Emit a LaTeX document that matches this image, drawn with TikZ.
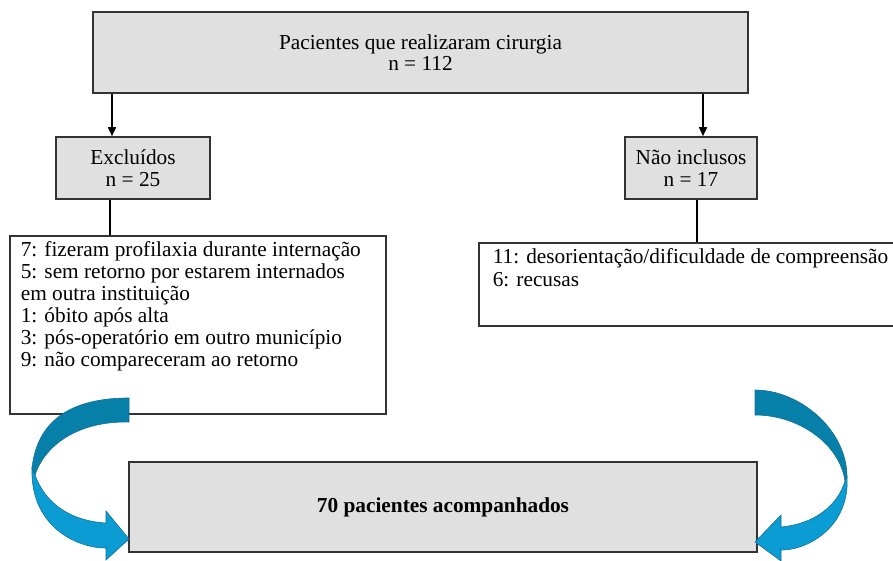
\documentclass[tikz,border=0pt]{standalone}
\usepackage{fontspec}
\setmainfont{Liberation Serif}
\usetikzlibrary{arrows.meta,positioning}
\definecolor{boxgray}{HTML}{E0E0E0}
\definecolor{linegray}{HTML}{333333}
\definecolor{ribbondark}{HTML}{0780A9}
\definecolor{ribbonlight}{HTML}{0A9CD3}
\definecolor{ribbonedge}{HTML}{136F96}

\begin{document}
\begin{tikzpicture}[x=1pt,y=-1pt,
    every node/.style={font=\fontsize{21.3}{20.5}\selectfont},
    graybox/.style={draw=linegray,line width=1.6pt,fill=boxgray,align=center,inner sep=0pt},
    smallbox/.style={graybox,minimum height=62pt,font=\fontsize{21.3}{22}\selectfont},
    listbox/.style={draw=linegray,line width=1.6pt,fill=white,anchor=north west,inner sep=0pt},
    arr/.style={line width=1.6pt,-{Triangle[length=9pt,width=8pt]}},
    conn/.style={line width=1.6pt}]
        \useasboundingbox (0,0) rectangle (893,561);
        \clip (0,0) rectangle (893,561);

        % boxes
        \path
        (420.5,52.5) node[graybox,minimum width=655pt,minimum height=81pt](pac) {Pacientes que realizaram cirurgia\\n = 112}
        (133,168) node[smallbox,minimum width=154pt](exc) {Excluídos\\n = 25}
        (691,168) node[smallbox,minimum width=132pt](nin) {Não inclusos\\n = 17}
        (9,235) node[listbox](exclist) {\begin{minipage}[t][178pt][t]{376pt}\fontsize{21.3}{22}\selectfont
            \leftskip=11pt
            \rule{0pt}{21pt}7: fizeram profilaxia durante internação\\
            5: sem retorno por estarem internados\\
            em outra instituição\\
            1: óbito após alta\\
            3: pós-operatório em outro município\\
            9: não compareceram ao retorno\end{minipage}}
        (478,242) node[listbox](ninlist) {\begin{minipage}[t][83pt][t]{440pt}\fontsize{21.3}{23}\selectfont
            \leftskip=14pt
            \rule{0pt}{21pt}11: desorientação/dificuldade de compreensão\\
            6: recusas\end{minipage}}
        (443,507) node[graybox,minimum width=628pt,minimum height=90pt](acomp) {\textbf{70 pacientes acompanhados}}
        ;

        \coordinate (excin) at ([xshift=-21pt]exc.north);
        \coordinate (ninin) at ([xshift=12pt]nin.north);
        \coordinate (excout) at ([xshift=-23pt]exc.south);
        \coordinate (ninout) at ([xshift=6pt]nin.south);

        \draw[arr] (pac.south -| excin) -- (excin);
        \draw[arr] (pac.south -| ninin) -- (ninin);
        \draw[conn] (excout) -- (excout |- exclist.north);
        \draw[conn] (ninout) -- (ninout |- ninlist.north);

        % curved arrows
        \filldraw[ribbondark,draw=ribbonedge,line width=0.6pt]
          (129,398) .. controls (80,398) and (38,414) .. (32,468)
          -- (35,475) .. controls (45,445) and (78,421) .. (129,422) -- cycle;
        \filldraw[ribbonlight,draw=ribbonedge,line width=0.6pt]
          (32,468) .. controls (30,525) and (75,548) .. (106,548)
          -- (106,560) -- (129,539) -- (106,511) -- (106,523)
          .. controls (70,521) and (45,503) .. (35,475) -- cycle;
        \filldraw[ribbondark,draw=ribbonedge,line width=0.6pt]
          (755,390) .. controls (800,390) and (847,430) .. (847,477)
          -- (845,481) .. controls (840,445) and (800,415) .. (755,415) -- cycle;
        \filldraw[ribbonlight,draw=ribbonedge,line width=0.6pt]
          (847,477) .. controls (850,525) and (810,550) .. (781,550)
          -- (781,561) -- (755,542) -- (781,515) -- (781,527)
          .. controls (815,524) and (838,505) .. (845,481) -- cycle;
      \end{tikzpicture}
\end{document}
